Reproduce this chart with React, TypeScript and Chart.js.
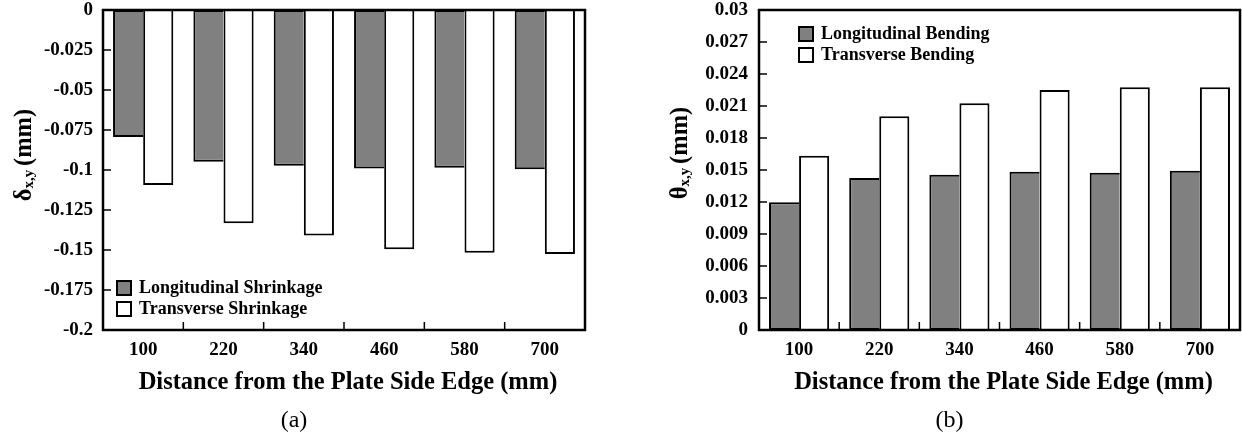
import React, { useEffect, useRef } from 'react';
import { Chart, registerables } from 'chart.js';

Chart.register(...registerables);

const FONT = '"Liberation Serif", "Times New Roman", serif';

// ---- data ----
const categories = ['100', '220', '340', '460', '580', '700'];

const longitudinalShrinkage = [-0.0794, -0.0948, -0.0973, -0.099, -0.0986, -0.0996];
const transverseShrinkage = [-0.1094, -0.1333, -0.141, -0.1496, -0.1517, -0.1525];

const longitudinalBending = [0.01197, 0.01425, 0.01456, 0.01484, 0.01475, 0.01494];
const transverseBending = [0.01634, 0.02003, 0.02125, 0.0225, 0.02275, 0.02275];

const shrinkageTicks = [0, -0.025, -0.05, -0.075, -0.1, -0.125, -0.15, -0.175, -0.2];
const bendingTicks = [0, 0.003, 0.006, 0.009, 0.012, 0.015, 0.018, 0.021, 0.024, 0.027, 0.03];

const seriesLabelsA = ['Longitudinal Shrinkage', 'Transverse Shrinkage'];
const seriesLabelsB = ['Longitudinal Bending', 'Transverse Bending'];
const xTitle = 'Distance from the Plate Side Edge (mm)';

const GRAY = '#808080';
const WHITE = '#ffffff';

const panelPlugin = {
  id: 'panel',
  afterDatasetsDraw(chart: any, _args: any, opts: any) {
    const { ctx, chartArea: a, scales } = chart;
    const x = scales.x;
    const y = scales.y;
    ctx.save();
    // inward tick marks
    ctx.strokeStyle = '#000';
    ctx.lineWidth = 1.5;
    ctx.beginPath();
    for (let i = 0; i < x.ticks.length - 1; i++) {
      const px = (x.getPixelForTick(i) + x.getPixelForTick(i + 1)) / 2;
      ctx.moveTo(px, a.bottom);
      ctx.lineTo(px, a.bottom - 8);
    }
    y.ticks.forEach((_t: any, i: number) => {
      const py = y.getPixelForTick(i);
      ctx.moveTo(a.left, py);
      ctx.lineTo(a.left + 8, py);
    });
    ctx.stroke();
    // frame
    ctx.lineWidth = 2.5;
    ctx.strokeRect(a.left, a.top, a.right - a.left, a.bottom - a.top);

    // legend
    const lx = a.left + opts.legendLeft;
    const ly = a.top + opts.legendTop;
    chart.data.datasets.forEach((ds: any, i: number) => {
      const top = ly + i * 21;
      ctx.fillStyle = ds.backgroundColor;
      ctx.fillRect(lx, top, 14, 14);
      ctx.lineWidth = 2;
      ctx.strokeStyle = '#000';
      ctx.strokeRect(lx, top, 14, 14);
      ctx.fillStyle = '#000';
      ctx.font = `bold 18px ${FONT}`;
      ctx.textAlign = 'left';
      ctx.textBaseline = 'middle';
      ctx.fillText(ds.label, lx + 22, top + 7);
    });
    ctx.restore();
  },
  afterDraw(chart: any, _args: any, opts: any) {
    const { ctx, chartArea: a } = chart;
    const cx = (a.left + a.right) / 2;
    ctx.save();
    ctx.fillStyle = '#000';
    // x title
    ctx.font = `bold 24.5px ${FONT}`;
    ctx.textAlign = 'center';
    ctx.textBaseline = 'alphabetic';
    ctx.fillText(opts.xTitle, cx + 4, 389);
    // panel label
    ctx.font = `24px ${FONT}`;
    ctx.fillText(opts.panel, cx - 50, 427);
    // y title (rotated, with subscript)
    const parts = [
      { t: opts.yMain, size: 24.5, dy: 0 },
      { t: 'x,y ', size: 15, dy: 2 },
      { t: '(mm)', size: 24.5, dy: 0 },
    ];
    let total = 0;
    const widths = parts.map((p) => {
      ctx.font = `bold ${p.size}px ${FONT}`;
      const w = ctx.measureText(p.t).width;
      total += w;
      return w;
    });
    ctx.translate(opts.yTitleX, opts.yTitleY);
    ctx.rotate(-Math.PI / 2);
    ctx.textAlign = 'left';
    let pos = -total / 2;
    parts.forEach((p, i) => {
      ctx.font = `bold ${p.size}px ${FONT}`;
      ctx.fillText(p.t, pos, p.dy);
      pos += widths[i];
    });
    ctx.restore();
  },
};

function makeConfig(
  d1: number[],
  d2: number[],
  labels: string[],
  tickValues: number[],
  min: number,
  max: number,
  yWidth: number,
  tickPad: number,
  rightPad: number,
  panelOpts: any
): any {
  return {
    type: 'bar',
    data: {
      labels: categories,
      datasets: [
        {
          label: labels[0],
          data: d1,
          backgroundColor: GRAY,
          borderColor: '#000',
          borderWidth: 2,
          borderSkipped: 'right',
        },
        {
          label: labels[1],
          data: d2,
          backgroundColor: WHITE,
          borderColor: '#000',
          borderWidth: 2,
        },
      ],
    },
    options: {
      responsive: false,
      animation: false,
      devicePixelRatio: 1,
      layout: { padding: { left: 0, top: 10, right: rightPad, bottom: 0 } },
      datasets: { bar: { categoryPercentage: 0.75, barPercentage: 1 } },
      plugins: {
        legend: { display: false },
        tooltip: { enabled: false },
        title: { display: false },
        panel: panelOpts,
      },
      scales: {
        x: {
          type: 'category',
          offset: true,
          grid: { display: false, drawTicks: false },
          border: { display: false },
          ticks: {
            color: '#000',
            font: { family: FONT, size: 19, weight: 'bold' },
            padding: 9,
            maxRotation: 0,
            autoSkip: false,
          },
          afterFit(s: any) {
            s.height = 105;
            s.paddingLeft = 0;
            s.paddingRight = 0;
          },
        },
        y: {
          type: 'linear',
          min,
          max,
          grid: { display: false, drawTicks: false },
          border: { display: false },
          afterBuildTicks(s: any) {
            s.ticks = tickValues.map((v) => ({ value: v }));
          },
          ticks: {
            color: '#000',
            font: { family: FONT, size: 19, weight: 'bold' },
            padding: tickPad,
            callback: (v: number) => String(v),
          },
          afterFit(s: any) {
            s.width = yWidth;
            s.paddingTop = 0;
            s.paddingBottom = 0;
          },
        },
      },
    },
    plugins: [panelPlugin],
  };
}

export default function App() {
  const leftRef = useRef<HTMLCanvasElement>(null);
  const rightRef = useRef<HTMLCanvasElement>(null);

  useEffect(() => {
    const c1 = new Chart(
      leftRef.current!,
      makeConfig(longitudinalShrinkage, transverseShrinkage, seriesLabelsA, shrinkageTicks, -0.2, 0, 103, 10, 35, {
        legendLeft: 14,
        legendTop: 271,
        xTitle,
        panel: '(a)',
        yMain: 'δ',
        yTitleX: 31,
        yTitleY: 155,
      })
    );
    const c2 = new Chart(
      rightRef.current!,
      makeConfig(longitudinalBending, transverseBending, seriesLabelsB, bendingTicks, 0, 0.03, 139, 11, 2, {
        legendLeft: 40,
        legendTop: 17,
        xTitle,
        panel: '(b)',
        yMain: 'θ',
        yTitleX: 67,
        yTitleY: 153,
      })
    );
    return () => {
      c1.destroy();
      c2.destroy();
    };
  }, []);

  return (
    <div style={{ position: 'absolute', left: 0, top: 0, width: 1242, height: 435, background: '#fff' }}>
      <canvas
        ref={leftRef}
        width={620}
        height={435}
        style={{ position: 'absolute', left: 0, top: 0, width: 620, height: 435 }}
      />
      <canvas
        ref={rightRef}
        width={622}
        height={435}
        style={{ position: 'absolute', left: 620, top: 0, width: 622, height: 435 }}
      />
    </div>
  );
}
